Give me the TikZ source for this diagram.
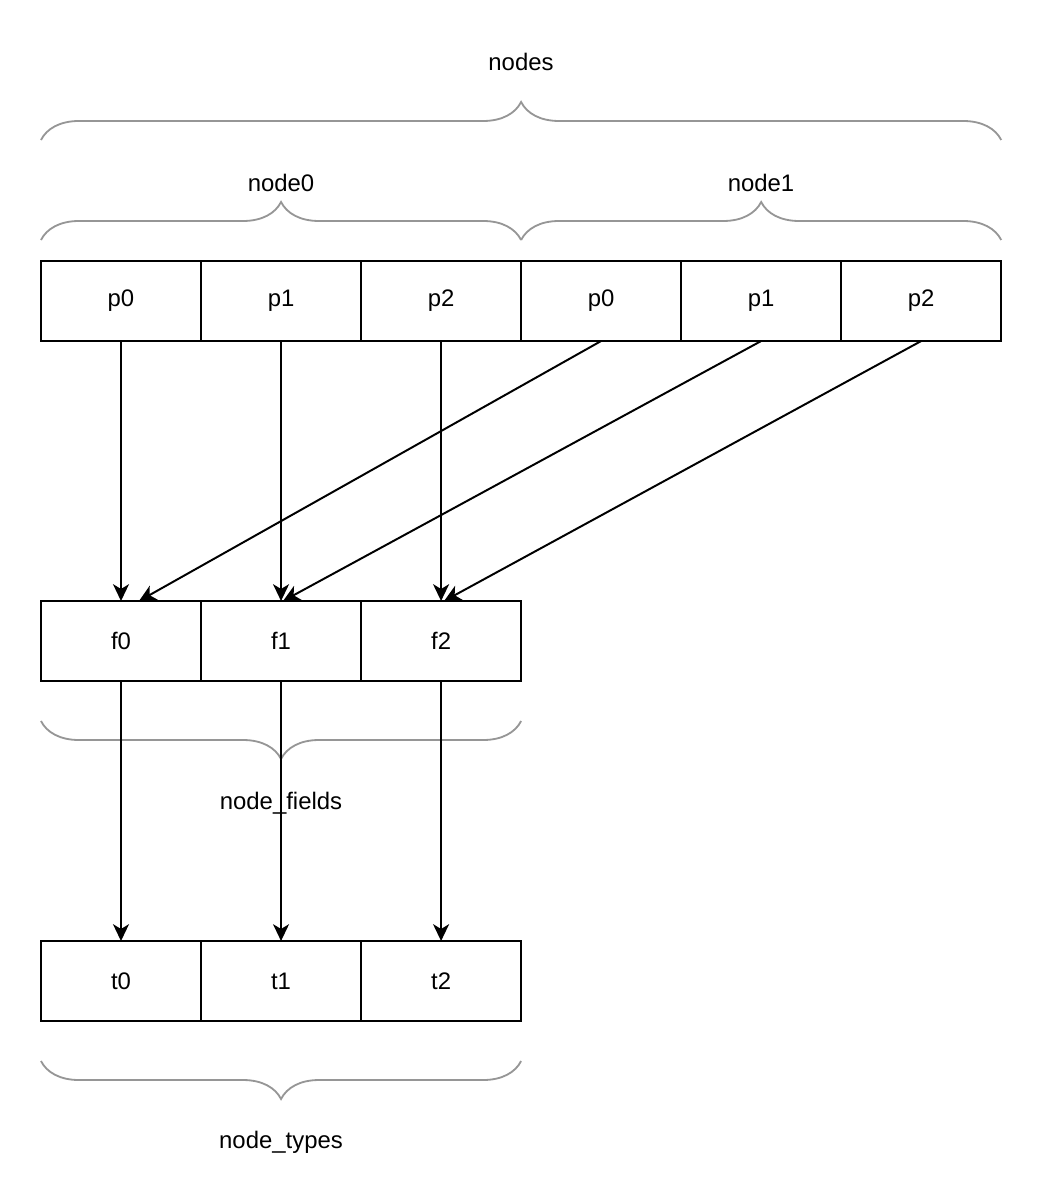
\documentclass[tikz,border=0pt]{standalone}
\usepackage{fontspec}
\setmainfont{Liberation Sans}
\usetikzlibrary{positioning}
\usetikzlibrary{calc}
\usetikzlibrary{arrows.meta}
\usetikzlibrary{decorations.pathreplacing}
\definecolor{bracegray}{RGB}{150,150,150}

\begin{document}
\begin{tikzpicture}[x=0.025cm,y=-0.025cm,
	cell/.style={draw,line width=1.4pt,minimum width=4cm,minimum height=2cm,inner sep=0pt,outer sep=0pt,font=\fontsize{17}{20}\selectfont},
	lbl/.style={font=\fontsize{17}{20}\selectfont},
	brc/.style={draw=bracegray,line width=1.3pt,decorate,decoration={brace,amplitude=0.95cm,aspect=0.5}},
	ptr/.style={-{Stealth[length=0.42cm,width=0.4cm,inset=0.12cm]},line width=1.4pt}]
	\useasboundingbox (0,0) rectangle (1042,1202);
	
	% nodes
	\node[cell] (p00) at (121,301) {p0};
	\node[cell,right=0pt of p00] (p01) {p1};
	\node[cell,right=0pt of p01] (p02) {p2};
	\node[cell,right=0pt of p02] (p10) {p0};
	\node[cell,right=0pt of p10] (p11) {p1};
	\node[cell,right=0pt of p11] (p12) {p2};
	
	% node_fields
	\node[cell] (f0) at (121,641) {f0};
	\node[cell,right=0pt of f0] (f1) {f1};
	\node[cell,right=0pt of f1] (f2) {f2};
	
	% node_types
	\node[cell] (t0) at (121,981) {t0};
	\node[cell,right=0pt of t0] (t1) {t1};
	\node[cell,right=0pt of t1] (t2) {t2};
	
	% braces
	\draw[brc] (p00.north west |- 0,140) -- (p12.north east |- 0,140);
	\draw[brc] (p00.north west |- 0,240) -- (p02.north east |- 0,240);
	\draw[brc] (p10.north west |- 0,240) -- (p12.north east |- 0,240);
	\draw[brc] (f2.south east |- 0,721) -- (f0.south west |- 0,721);
	\draw[brc] (t2.south east |- 0,1061) -- (t0.south west |- 0,1061);
	
	\node[lbl] (nodes) at (521,62) {nodes};
	\node[lbl] (node0) at (281,183) {node0};
	\node[lbl] (node1) at (761,183) {node1};
	\node[lbl] (fields) at (281,803) {node\_fields};
	\node[lbl] (types) at (281,1142) {node\_types};
	
	% pointers
	\draw[ptr] (p00.south) -- (f0.north);
	\draw[ptr] (p01.south) -- (f1.north);
	\draw[ptr] (p02.south) -- (f2.north);
	\draw[ptr] (p10.south) -- ($(f0.north)+(18,0)$);
	\draw[ptr] (p11.south) -- ($(f1.north)+(2,0)$);
	\draw[ptr] (p12.south) -- ($(f2.north)+(3,0)$);
	
	\draw[ptr] (f0.south) -- (t0.north);
	\draw[ptr] (f1.south) -- (t1.north);
	\draw[ptr] (f2.south) -- (t2.north);
\end{tikzpicture}
\end{document}
